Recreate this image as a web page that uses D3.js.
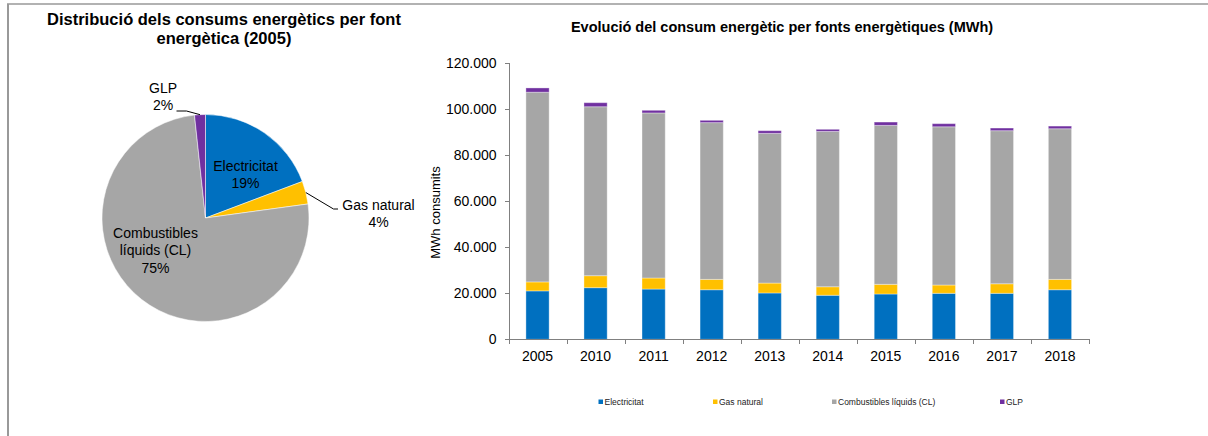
<!DOCTYPE html>
<meta charset="utf-8">
<style>
body { margin: 0; background: #fff; }
svg { font-family: "Liberation Sans", Arial, sans-serif; }
.axis path, .axis line { stroke: #808080; shape-rendering: crispEdges; }
.axis text { font-size: 14px; fill: #000; }
</style>
<body>
<svg width="1208" height="436"></svg>
<script src="https://d3js.org/d3.v7.min.js"></script>
<script>
var years = ["2005", "2010", "2011", "2012", "2013", "2014", "2015", "2016", "2017", "2018"];
var sources = ["Electricitat", "Gas natural", "Combustibles líquids (CL)", "GLP"];
var electricitat = [21000, 22400, 21800, 21500, 20100, 19100, 19650, 19950, 19950, 21500];
var gasNatural = [3900, 5200, 4800, 4500, 4300, 3700, 4200, 3600, 4150, 4500];
var combustibles = [82300, 73300, 71600, 68000, 64950, 67400, 68950, 68650, 66400, 65350];
var glp = [1850, 1750, 1150, 1000, 1150, 900, 1450, 1350, 1150, 1150];
var yTicks = [0, 20000, 40000, 60000, 80000, 100000, 120000];
var pieLabels = [["Electricitat"], ["Gas natural"], ["Combustibles", "líquids (CL)"], ["GLP"]];

var colors = ["#0070C0", "#FFC000", "#A6A6A6", "#7030A0"];
var series = [electricitat, gasNatural, combustibles, glp];

var svg = d3.select("svg");

// frame
svg.append("line").attr("x1", 7).attr("x2", 1208).attr("y1", 4).attr("y2", 4)
  .attr("stroke", "#999").attr("stroke-width", 1.5);
svg.append("line").attr("x1", 8).attr("x2", 8).attr("y1", 4).attr("y2", 436)
  .attr("stroke", "#999").attr("stroke-width", 2);

// ---------- pie (2005) ----------
var pieTitle = svg.append("text").attr("text-anchor", "middle")
  .style("font-size", "16.5px").style("font-weight", "bold");
pieTitle.append("tspan").attr("x", 224).attr("y", 25).text("Distribució dels consums energètics per font");
pieTitle.append("tspan").attr("x", 224).attr("y", 44).text("energètica (2005)");

var pieData = series.map(function(s, i) { return { name: sources[i], value: s[0], i: i }; });
var total = d3.sum(pieData, function(d) { return d.value; });
var r = 103.5;
var pg = svg.append("g").attr("transform", "translate(205.5,218)");
var arcs = d3.pie().sort(null).value(function(d) { return d.value; })(pieData);
var arc = d3.arc().innerRadius(0).outerRadius(r);

pg.selectAll("path").data(arcs).enter().append("path")
  .attr("d", arc)
  .attr("fill", function(d) { return colors[d.data.i]; })
  .attr("stroke", "#fff").attr("stroke-width", 0.5);

// label placement relative to the pie centre (first baseline)
var labelPos = [[40, -47], [173, -8], [-50, 20], [-42.5, -125]];

arcs.forEach(function(d, k) {
  var p = labelPos[k];
  var lines = pieLabels[k].concat([Math.round(d.data.value / total * 100) + "%"]);
  var t = pg.append("text").attr("text-anchor", "middle").style("font-size", "14px").attr("fill", "#000");
  lines.forEach(function(s, j) {
    t.append("tspan").attr("x", p[0]).attr("y", p[1] + j * 17.3).text(s);
  });
  var mid = (d.startAngle + d.endAngle) / 2;
  var sx = r * Math.sin(mid), sy = -r * Math.cos(mid);
  if (k === 1) {
    pg.append("polyline").attr("fill", "none").attr("stroke", "#000").attr("stroke-width", 1)
      .attr("points", [[sx, sy], [128, -9], [132.5, -9]].join(" "));
  }
  if (k === 3) {
    pg.append("polyline").attr("fill", "none").attr("stroke", "#000").attr("stroke-width", 1)
      .attr("points", [[sx, sy], [-19, -107], [-29, -107]].join(" "));
  }
});

// ---------- stacked bars ----------
var m = { left: 508.5, top: 62.7, right: 1089, bottom: 339.3 };
svg.append("text").attr("x", 782).attr("y", 32).attr("text-anchor", "middle")
  .style("font-size", "14.5px").style("font-weight", "bold")
  .text("Evolució del consum energètic per fonts energètiques (MWh)");

var x = d3.scaleBand().domain(years).range([m.left, m.right]).paddingInner(0.6).paddingOuter(0.3);
var y = d3.scaleLinear().domain([0, 120000]).range([m.bottom, m.top]);

var table = years.map(function(yr, i) {
  var row = { year: yr };
  sources.forEach(function(s, k) { row[s] = series[k][i]; });
  return row;
});
var stacked = d3.stack().keys(sources)(table);

svg.append("g").selectAll("g").data(stacked).enter().append("g")
  .attr("fill", function(d, k) { return colors[k]; })
  .selectAll("rect").data(function(d) { return d; }).enter().append("rect")
  .attr("x", function(d) { return x(d.data.year); })
  .attr("width", x.bandwidth())
  .attr("y", function(d) { return y(d[1]); })
  .attr("height", function(d) { return y(d[0]) - y(d[1]); })
  .attr("stroke", "#fff").attr("stroke-opacity", 0.35).attr("stroke-width", 1);

var yAxis = svg.append("g").attr("class", "axis")
  .attr("transform", "translate(" + m.left + ",0)")
  .call(d3.axisLeft(y).tickValues(yTicks).tickSize(4).tickSizeOuter(0).tickPadding(8)
    .tickFormat(function(d) { return d3.format(",")(d).replace(/,/g, "."); }));

var xAxis = svg.append("g").attr("class", "axis")
  .attr("transform", "translate(0," + m.bottom + ")")
  .call(d3.axisBottom(x).tickSize(0).tickPadding(12));
xAxis.select(".domain").remove();
xAxis.append("line").attr("x1", m.left - 4).attr("x2", m.right).attr("y1", 0).attr("y2", 0);
var step = x.step();
xAxis.selectAll(".sep").data(d3.range(years.length + 1)).enter().append("line")
  .attr("class", "sep")
  .attr("x1", function(i) { return Math.round(m.left + i * step) + 0.5; })
  .attr("x2", function(i) { return Math.round(m.left + i * step) + 0.5; })
  .attr("y1", 0).attr("y2", 5);

svg.append("text").attr("transform", "translate(440,212.5) rotate(-90)")
  .attr("text-anchor", "middle").style("font-size", "13px").text("MWh consumits");

// legend
var legendX = [598.5, 713, 832, 1000];
var lg = svg.append("g").selectAll("g").data(sources).enter().append("g")
  .attr("transform", function(d, k) { return "translate(" + legendX[k] + ",402)"; });
lg.append("rect").attr("x", 0).attr("y", -2.5).attr("width", 4.5).attr("height", 4.5)
  .attr("fill", function(d, k) { return colors[k]; });
lg.append("text").attr("x", 6).attr("y", 3).style("font-size", "8.5px").attr("fill", "#222")
  .text(function(d) { return d; });
</script>
</body>
